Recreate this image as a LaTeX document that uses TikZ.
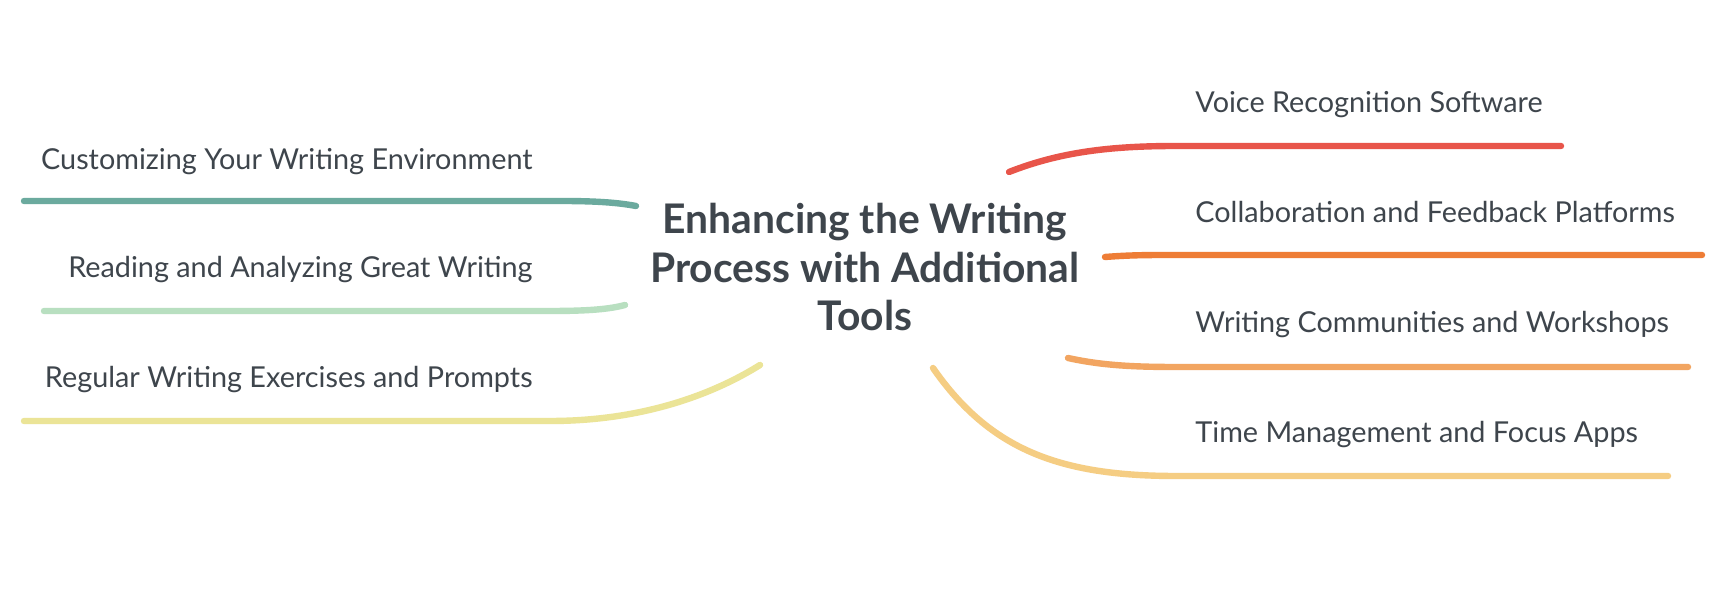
\documentclass[tikz,border=0pt]{standalone}
\usepackage{fontspec}
\setmainfont{Lato}
\definecolor{txt}{HTML}{3E454C}
\definecolor{cteal}{HTML}{6BAA9E}
\definecolor{cgreen}{HTML}{B8DFC0}
\definecolor{cyellow}{HTML}{EBE497}
\definecolor{cred}{HTML}{E8554A}
\definecolor{corange}{HTML}{EE7D36}
\definecolor{clorange}{HTML}{F2A561}
\definecolor{cgold}{HTML}{F5CD83}
\tikzset{
  topic/.style={font=\bfseries\fontsize{20.4}{24.3}\selectfont, text=txt, align=center, inner sep=0pt},
  leftlabel/.style={font=\fontsize{14.4}{17}\selectfont, text=txt, anchor=base east, inner sep=0pt},
  rightlabel/.style={font=\fontsize{14.4}{17}\selectfont, text=txt, anchor=base west, inner sep=0pt},
  branch/.style={line width=3.2pt, line cap=round}
}
\begin{document}
\begin{tikzpicture}[x=0.5pt,y=-0.5pt]
\useasboundingbox[fill=white] (0,0) rectangle (1724,592);
\node[topic, anchor=north] (title) at (865,203) {Enhancing the Writing\\Process with Additional\\Tools};
% left labels
\node[leftlabel] (l1) at (533,170) {Customizing Your Writing Environment};
\node[leftlabel] (l2) at (533,278) {Reading and Analyzing Great Writing};
\node[leftlabel] (l3) at (533,388) {Regular Writing Exercises and Prompts};
% right labels
\node[rightlabel] (r1) at (1195,113) {Voice Recognition Software};
\node[rightlabel] (r2) at (1195,223) {Collaboration and Feedback Platforms};
\node[rightlabel] (r3) at (1195,333) {Writing Communities and Workshops};
\node[rightlabel] (r4) at (1195,443) {Time Management and Focus Apps};
% connector end points
\coordinate (t1) at (636,206);  \coordinate (e1) at (24,201);
\coordinate (t2) at (625,305);  \coordinate (e2) at (44,311);
\coordinate (t3) at (760,365);  \coordinate (e3) at (24,421);
\coordinate (t4) at (1009,172); \coordinate (f1) at (1561,146);
\coordinate (t5) at (1105,257); \coordinate (f2) at (1702,255);
\coordinate (t6) at (1068,358); \coordinate (f3) at (1688,367);
\coordinate (t7) at (933,368);  \coordinate (f4) at (1668,476);
% connectors
\draw[branch, cteal] (t1) .. controls (620,203) and (600,201) .. (561,201) -- (e1);
\draw[branch, cgreen] (t2) .. controls (610,309) and (590,311) .. (550,311) -- (e2);
\draw[branch, cyellow] (t3) .. controls (720,390) and (650,421) .. (550,421) -- (e3);
\draw[branch, cred] (t4) .. controls (1060,152) and (1110,146) .. (1176,146) -- (f1);
\draw[branch, corange] (t5) .. controls (1130,255) and (1150,255) .. (1170,255) -- (f2);
\draw[branch, clorange] (t6) .. controls (1100,365) and (1130,367) .. (1176,367) -- (f3);
\draw[branch, cgold] (t7) .. controls (990,450) and (1060,476) .. (1176,476) -- (f4);
\end{tikzpicture}
\end{document}
